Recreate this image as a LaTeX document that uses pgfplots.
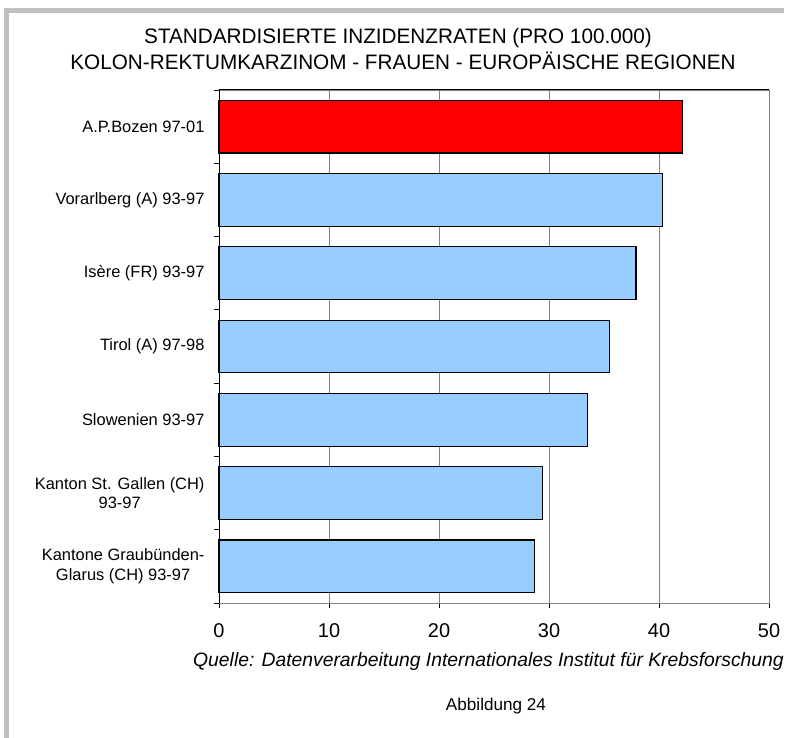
\documentclass[border=0pt]{standalone}
\usepackage{fontspec}
\setmainfont{Liberation Sans}
\newfontfamily\titlefont[FakeStretch=0.99]{Liberation Sans}
\usepackage{pgfplots}
\pgfplotsset{compat=1.18}

\definecolor{barblue}{RGB}{153,204,255}
\definecolor{barred}{RGB}{255,0,0}
\definecolor{framegray}{RGB}{192,192,192}
\definecolor{gridgray}{RGB}{128,128,128}

\begin{document}
\begin{tikzpicture}[x=1bp,y=1bp]
\path[use as bounding box] (0,0) rectangle (795,738);
% frame
\fill[framegray] (4,0) rectangle (9,730);
\fill[framegray] (4,725) rectangle (784,730);

% title
\node[font=\titlefont\fontsize{21}{24}\selectfont] at (398,700) {STANDARDISIERTE INZIDENZRATEN (PRO 100.000)};
\node[font=\titlefont\fontsize{21}{24}\selectfont] at (403,677) {KOLON-REKTUMKARZINOM - FRAUEN - EUROPÄISCHE REGIONEN};

\begin{axis}[
    at={(219bp,135bp)}, anchor=south west,
    scale only axis, width=550bp, height=513bp,
    xmin=0, xmax=50,
    ymin=-0.5, ymax=6.5, y dir=reverse,
    xtick={0,10,...,50},
    ytick={-0.5,0.5,...,6.5},
    y tick label as interval,
    yticklabels={{A.P.Bozen 97-01},{Vorarlberg (A) 93-97},{Isère (FR) 93-97},{Tirol (A) 97-98},{Slowenien 93-97},{Kanton St. Gallen (CH)\\93-97},{Kantone Graubünden-\\Glarus (CH) 93-97}},
    yticklabel style={font=\fontsize{16.5}{19.5}\selectfont, align=center, xshift=-6bp},
    xticklabel style={font=\fontsize{20}{23}\selectfont, yshift=-12bp},
    /pgf/number format/assume math mode=true,
    tick align=outside,
    xtick pos=left, ytick pos=left,
    major tick length=5bp,
    tick style={black, line width=0.8bp},
    xmajorgrids,
    major grid style={gridgray, line width=0.6bp},
    axis line style={gridgray, line width=0.8bp},
    xbar, bar width=0.72, bar shift=0pt,
    clip=false,
]
\addplot[fill=barred, draw=black, line width=1.2bp] coordinates {(42.1,0)};
\addplot[fill=barblue, draw=black, line width=1.2bp] coordinates {
(40.3,1) (37.9,2) (35.5,3) (33.5,4) (29.4,5) (28.7,6)};
\draw[black, line width=1bp] (rel axis cs:0,0) -- (rel axis cs:0,1);
\draw[black, line width=1bp] (rel axis cs:0,1) -- (rel axis cs:1,1);
\end{axis}

\node[font=\itshape\fontsize{19.4}{22}\selectfont, anchor=west, inner sep=0pt] at (193,76) {Quelle: Datenverarbeitung Internationales Institut für Krebsforschung};
\node[font=\fontsize{17.2}{20}\selectfont] at (496,32) {Abbildung 24};
\end{tikzpicture}
\end{document}
